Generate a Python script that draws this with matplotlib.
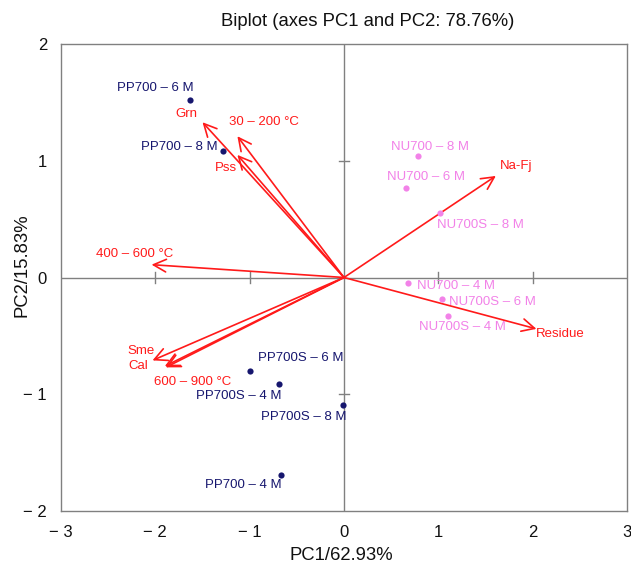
import matplotlib
matplotlib.use("Agg")
import matplotlib.pyplot as plt

plt.rcParams['font.family'] = ['Liberation Sans', 'DejaVu Sans']

# ---- data ----
pp_labels = ["PP700 – 6 M", "PP700 – 8 M", "PP700S – 6 M", "PP700S – 4 M",
             "PP700S – 8 M", "PP700 – 4 M"]
pp_x = [-1.63, -1.28, -1.00, -0.69, -0.01, -0.67]
pp_y = [1.52, 1.08, -0.80, -0.91, -1.09, -1.69]

nu_labels = ["NU700 – 8 M", "NU700 – 6 M", "NU700S – 8 M", "NU700 – 4 M",
             "NU700S – 6 M", "NU700S – 4 M"]
nu_x = [0.78, 0.66, 1.02, 0.68, 1.04, 1.10]
nu_y = [1.04, 0.77, 0.55, -0.05, -0.18, -0.33]

var_labels = ["Na-Fj", "Residue", "400 – 600 °C", "Grn", "30 – 200 °C", "Pss",
              "Sme", "Cal", "600 – 900 °C"]
var_x = [1.61, 2.04, -2.04, -1.50, -1.13, -1.13, -2.03, -1.90, -1.89]
var_y = [0.87, -0.44, 0.11, 1.33, 1.21, 1.05, -0.71, -0.76, -0.77]

x_ticks = [-3, -2, -1, 0, 1, 2, 3]
y_ticks = [-2, -1, 0, 1, 2]

# ---- label offsets (pixels) ----
pp_off = [(-35, 12), (-44, 4), (51, 13), (-40, -12), (-39, -12), (-37, -10)]
nu_off = [(12, 9), (20, 11), (40, -12), (48, -3), (50, -3), (15, -11)]
var_off = [(20, 10), (24, -5), (-17, 11), (-16, 8), (27, 14), (-11, -13),
           (-11, 9), (-27, 0), (27, -15)]

NAVY = '#16166e'
PINK = '#f282e8'
RED = '#ff1a1a'
GREY = '#808080'
TXT = '#111111'

fig = plt.figure(figsize=(6.31, 5.69), dpi=100)
ax = fig.add_axes([61/631, 1-511/569, 566/631, 467/569])
ax.set_xlim(-3, 3)
ax.set_ylim(-2, 2)

for s in ax.spines.values():
    s.set_color(GREY)
    s.set_linewidth(1.0)

# zero lines with cross ticks
ax.axhline(0, color=GREY, lw=1.0, zorder=1)
ax.axvline(0, color=GREY, lw=1.0, zorder=1)
for t in x_ticks:
    if t not in (-3, 0, 3):
        ax.plot([t, t], [-0.045, 0.045], color=GREY, lw=1.0, zorder=1)
for t in y_ticks:
    if t not in (-2, 0, 2):
        ax.plot([-0.055, 0.055], [t, t], color=GREY, lw=1.0, zorder=1)

def fmt(v):
    return "− %d" % abs(v) if v < 0 else "%d" % v

ax.set_xticks(x_ticks)
ax.set_xticklabels([fmt(v) for v in x_ticks])
ax.set_yticks(y_ticks)
ax.set_yticklabels([fmt(v) for v in y_ticks])
ax.tick_params(axis='x', length=0, pad=10, labelsize=12, colors=TXT)
ax.tick_params(axis='y', length=0, pad=10, labelsize=12, colors=TXT)

fig.text(341/631, 1-555/569, "PC1/62.93%", fontsize=13.3, color=TXT,
         ha='center', va='center')
fig.text(22/631, 1-265/569, "PC2/15.83%", fontsize=13.3, color=TXT,
         ha='center', va='center', rotation=90)
fig.text(368/631, 1-21/569, "Biplot (axes PC1 and PC2: 78.76%)", fontsize=13.3,
         color=TXT, ha='center', va='center')

# arrows
for lab, x, y, off in zip(var_labels, var_x, var_y, var_off):
    ax.annotate('', xy=(x, y), xytext=(0, 0),
                arrowprops=dict(arrowstyle='->,head_length=0.7,head_width=0.35',
                                color=RED, lw=1.2, shrinkA=0, shrinkB=0,
                                mutation_scale=13), zorder=3)
    ax.annotate(lab, xy=(x, y), xytext=off, textcoords='offset pixels',
                ha='center', va='center', fontsize=9.5, color=RED, zorder=4)

# points
ax.scatter(pp_x, pp_y, s=20, color=NAVY, zorder=5, linewidths=0)
for lab, x, y, off in zip(pp_labels, pp_x, pp_y, pp_off):
    ax.annotate(lab, xy=(x, y), xytext=off, textcoords='offset pixels',
                ha='center', va='center', fontsize=9.5, color=NAVY, zorder=5)

ax.scatter(nu_x, nu_y, s=20, color=PINK, zorder=5, linewidths=0)
for lab, x, y, off in zip(nu_labels, nu_x, nu_y, nu_off):
    ax.annotate(lab, xy=(x, y), xytext=off, textcoords='offset pixels',
                ha='center', va='center', fontsize=9.5, color=PINK, zorder=5)

fig.savefig("out.png", dpi=100)
